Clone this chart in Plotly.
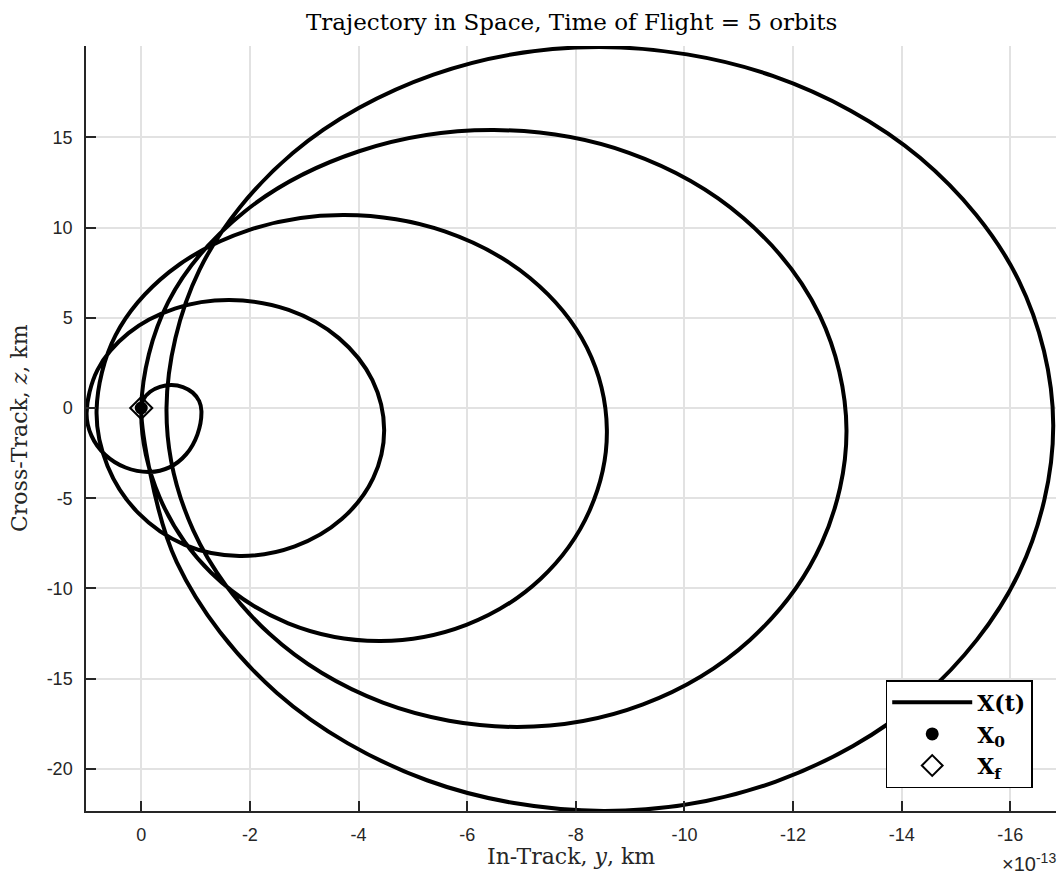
import numpy as np
import plotly.graph_objects as go

# Trajectory samples over 5 orbits:
# in-track y (units of 1e-13 km) and cross-track z (km)
y_e13 = [
    0.000, -0.042, -0.164, -0.344, -0.557, -0.768, -0.947, -1.066, -1.108,
    -1.035, -0.829, -0.518, -0.153, 0.290, 0.665, 0.917, 1.006,
    0.805, 0.235, -0.618, -1.623, -2.713, -3.638, -4.255, -4.472,
    -4.270, -3.691, -2.827, -1.807, -0.801, 0.051, 0.621, 0.822,
    0.474, -0.513, -1.993, -3.737, -5.586, -7.156, -8.204, -8.572,
    -8.252, -7.344, -5.985, -4.381, -2.706, -1.287, -0.338, 0.000,
    -0.500, -1.906, -4.011, -6.494, -8.978, -11.083, -12.489, -12.983,
    -12.522, -11.206, -9.238, -6.917, -4.449, -2.355, -0.956, -0.465,
    -1.072, -2.796, -5.379, -8.425, -11.625, -14.338, -16.153, -16.789,
    -16.160, -14.366, -11.682, -8.517, -5.259, -2.498, -0.653, 0.000,
]
z_km = [
    0.000, 0.488, 0.903, 1.175, 1.274, 1.163, 0.853, 0.388, -0.166,
    -1.457, -2.554, -3.291, -3.546, -3.296, -2.587, -1.529, -0.277,
    2.116, 4.150, 5.507, 5.983, 5.435, 3.873, 1.540, -1.219,
    -3.889, -6.155, -7.668, -8.199, -7.585, -5.828, -3.208, -0.111,
    4.022, 7.529, 9.873, 10.693, 9.784, 7.202, 3.343, -1.219,
    -5.690, -9.485, -12.017, -12.909, -11.928, -9.130, -4.942, 0.000,
    5.895, 10.892, 14.227, 15.402, 14.139, 10.532, 5.141, -1.219,
    -7.518, -12.853, -16.421, -17.673, -16.327, -12.499, -6.765, 0.000,
    7.657, 14.144, 18.476, 20.000, 18.405, 13.867, 7.075, -0.942,
    -9.125, -16.061, -20.698, -22.327, -20.626, -15.790, -8.543, 0.000,
]

# Initial and final states
x0_y, x0_z = 0.0, 0.0
xf_y, xf_z = 0.0, 0.0

Y_SCALE = 1e-13
x_ticks = [0, -2, -4, -6, -8, -10, -12, -14, -16]
y_ticks = [-20, -15, -10, -5, 0, 5, 10, 15]

y_km = np.array(y_e13) * Y_SCALE

SERIF = "DejaVu Serif"
SANS = "Liberation Sans"
AX_COLOR = "#262626"

fig = go.Figure()
fig.add_trace(go.Scatter(
    x=y_km, y=z_km, mode="lines",
    line=dict(color="black", width=4, shape="spline", smoothing=1.0),
    name="<b>X(t)</b>",
))
fig.add_trace(go.Scatter(
    x=[x0_y * Y_SCALE], y=[x0_z], mode="markers",
    marker=dict(symbol="circle", size=13, color="black"),
    name="<b>X</b><sub><b>0</b></sub>",
))
fig.add_trace(go.Scatter(
    x=[xf_y * Y_SCALE], y=[xf_z], mode="markers",
    marker=dict(symbol="diamond-open", size=17, color="black", line=dict(width=2)),
    name="<b>X</b><sub><b>f</b></sub>",
))

axis_common = dict(
    showgrid=True, gridcolor="#e2e2e2", gridwidth=1.5,
    zeroline=False, showline=True, linecolor=AX_COLOR, linewidth=1.5,
    ticks="inside", ticklen=10, tickwidth=1.5, tickcolor=AX_COLOR,
    tickfont=dict(family=SANS, size=18, color=AX_COLOR),
    mirror=False,
)

fig.update_xaxes(
    range=[1.017e-13, -16.84e-13],
    tickvals=[v * Y_SCALE for v in x_ticks],
    ticktext=[str(v) for v in x_ticks],
    ticklabelstandoff=7,
    **axis_common,
)
fig.update_yaxes(
    range=[-22.33, 20.06],
    tickvals=y_ticks,
    ticktext=[str(v) for v in y_ticks],
    ticklabelstandoff=8,
    **axis_common,
)

fig.update_layout(
    width=1058, height=882,
    margin=dict(l=86, r=2, t=46, b=71),
    paper_bgcolor="white", plot_bgcolor="white",
    showlegend=True,
    legend=dict(
        x=0.976, y=0.03, xanchor="right", yanchor="bottom",
        bgcolor="white", bordercolor="black", borderwidth=1.5,
        font=dict(family=SERIF, size=22, color="black"),
        tracegroupgap=0, itemwidth=80,
    ),
    annotations=[
        dict(text="Trajectory in Space, Time of Flight = 5 orbits",
             x=0.5, y=1.0, xref="paper", yref="paper",
             xanchor="center", yanchor="bottom", yshift=9, showarrow=False,
             font=dict(family=SERIF, size=23, color="black")),
        dict(text="In-Track, <i>y</i>, km",
             x=0.5, y=0.0, xref="paper", yref="paper",
             xanchor="center", yanchor="top", yshift=-31, showarrow=False,
             font=dict(family=SERIF, size=22, color=AX_COLOR)),
        dict(text="Cross-Track, <i>z</i>, km",
             x=0.0, y=0.5, xref="paper", yref="paper", textangle=-90,
             xanchor="right", yanchor="middle", xshift=-52, showarrow=False,
             font=dict(family=SERIF, size=22, color=AX_COLOR)),
        dict(text="×10<sup>-13</sup>",
             x=1.0, y=0.0, xref="paper", yref="paper",
             xanchor="right", yanchor="top", yshift=-37, xshift=2, showarrow=False,
             font=dict(family=SANS, size=20, color=AX_COLOR)),
    ],
)

fig.write_html("out.html")
